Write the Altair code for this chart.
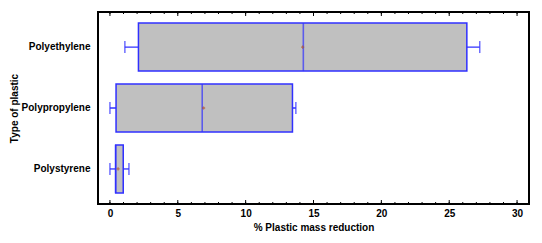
import altair as alt
import pandas as pd

categories = ["Polyethylene", "Polypropylene", "Polystyrene"]
mins = [1.1, 0.0, 0.0]
q1s = [2.1, 0.45, 0.42]
medians = [14.25, 6.8, 0.42]
means = [14.2, 6.9, 0.6]
q3s = [26.3, 13.45, 0.98]
maxs = [27.25, 13.7, 1.4]

major_ticks = [0, 5, 10, 15, 20, 25, 30]
minor_ticks = list(range(0, 31))

df = pd.DataFrame({
    "type": categories, "min": mins, "q1": q1s, "median": medians,
    "mean": means, "q3": q3s, "max": maxs,
})
df_major = pd.DataFrame({"t": major_ticks})
df_minor = pd.DataFrame({"t": minor_ticks})

BLUE = "#3030FF"
FONT = "Liberation Sans"
FS = 10
W, H = 431, 192

xscale = alt.Scale(domain=[-0.88, 30.88], nice=False, zero=False)
yscale = alt.Scale(paddingInner=0.21, paddingOuter=0.18)

yenc = alt.Y("type:N", sort=categories, scale=yscale,
             axis=alt.Axis(title="Type of plastic", ticks=False, domain=False,
                           labelPadding=8, labelFont=FONT, labelFontSize=FS,
                           labelFontWeight="bold", labelColor="black",
                           titleFont=FONT, titleFontSize=FS, titleFontWeight="bold",
                           titleColor="black", titleX=-84, titleY=H / 2,
                           titleAngle=270, titleAlign="center", titleBaseline="middle"))

xaxis = alt.Axis(title="% Plastic mass reduction", values=major_ticks, ticks=False,
                 domain=False, grid=False, labelPadding=4, labelFont=FONT,
                 labelFontSize=FS, labelFontWeight="bold", labelColor="black",
                 titleFont=FONT, titleFontSize=FS, titleFontWeight="bold",
                 titleColor="black", titlePadding=4)

def X(field):
    return alt.X(field, scale=xscale, axis=xaxis)

base = alt.Chart(df)

whisker = base.mark_rule(color=BLUE, strokeWidth=1.3).encode(
    x=X("min:Q"), x2="max:Q", y=yenc)
box = base.mark_bar(fill="#C0C0C0", stroke=BLUE, strokeWidth=1.5).encode(
    x=X("q1:Q"), x2="q3:Q", y=yenc)
median = base.mark_tick(color=BLUE, thickness=1.6, size=48).encode(
    x=X("median:Q"), y=yenc)
cap_lo = base.mark_tick(color=BLUE, thickness=1.5, size=12).encode(
    x=X("min:Q"), y=yenc)
cap_hi = base.mark_tick(color=BLUE, thickness=1.5, size=12).encode(
    x=X("max:Q"), y=yenc)
mean = base.mark_point(shape="cross", filled=True, size=10, color="#B0502A").encode(
    x=X("mean:Q"), y=yenc)

def tick_layer(d, y0, y1):
    return alt.Chart(d).mark_rule(color="black", strokeWidth=1).encode(
        x=X("t:Q"), y=alt.value(y0), y2=alt.value(y1))

ticks = [
    tick_layer(df_minor, H, H - 2),
    tick_layer(df_major, H, H - 4),
    tick_layer(df_minor, 0, 2),
    tick_layer(df_major, 0, 4),
]

chart = alt.layer(whisker, box, median, cap_lo, cap_hi, mean, *ticks).properties(
    width=W, height=H,
    autosize=alt.AutoSizeParams(type="none"),
    padding={"left": 98, "top": 12, "right": 13, "bottom": 39},
).configure(
    background="white",
    view=alt.ViewConfig(stroke="black", strokeWidth=2),
)

chart.save("out.html", embed_options={"renderer": "svg", "actions": False})
